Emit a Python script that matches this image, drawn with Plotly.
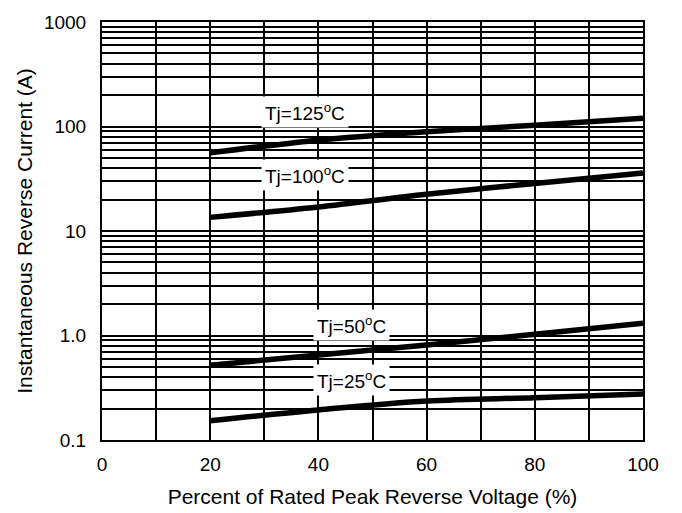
import plotly.graph_objects as go

x_pct = [20, 40, 60, 80, 100]
i_125 = [56, 74, 89, 103, 120]
i_100 = [13.5, 17, 22.5, 28.5, 36]
i_50 = [0.52, 0.65, 0.81, 1.03, 1.31]
i_25 = [0.153, 0.194, 0.236, 0.254, 0.275]

labels = ["Tj=125<sup>o</sup>C", "Tj=100<sup>o</sup>C", "Tj=50<sup>o</sup>C", "Tj=25<sup>o</sup>C"]
label_x = [37.5, 37.5, 46.2, 46.2]
label_log_y = [2.139, 1.536, 0.100, -0.426]

x_ticks = [0, 20, 40, 60, 80, 100]
y_ticks = [0.1, 1, 10, 100, 1000]
y_ticktext = ["0.1", "1.0", "10", "100", "1000"]

fig = go.Figure()
for ys in [i_125, i_100, i_50, i_25]:
    fig.add_trace(go.Scatter(x=x_pct, y=ys, mode="lines", line=dict(color="black", width=5.5, shape="spline"),
                             showlegend=False, hoverinfo="skip"))

for t, lx, ly in zip(labels, label_x, label_log_y):
    fig.add_annotation(x=lx, y=ly, text=t, showarrow=False,
                       font=dict(family="Liberation Sans, Arial", size=19, color="black"),
                       bgcolor="white", borderpad=3)

fig.update_layout(
    width=682, height=513,
    margin=dict(l=94, r=47, t=14, b=81),
    paper_bgcolor="white", plot_bgcolor="white",
    font=dict(family="Liberation Sans, Arial", size=19, color="black"),
)
fig.update_xaxes(range=[0, 100], tickvals=x_ticks, showgrid=True, gridcolor="black", gridwidth=1.5,
                 minor=dict(dtick=10, showgrid=True, gridcolor="black", gridwidth=1.5),
                 showline=True, linecolor="black", linewidth=2, mirror=True, ticks="",
                 ticklabelstandoff=6, automargin=False,
                 title=dict(text="Percent of Rated Peak Reverse Voltage (%)", font=dict(size=21), standoff=16),
                 zeroline=False)
fig.update_yaxes(type="log", range=[-1, 3], tickvals=y_ticks, ticktext=y_ticktext,
                 showgrid=True, gridcolor="black", gridwidth=1.5,
                 minor=dict(dtick="D1", showgrid=True, gridcolor="black", gridwidth=1.5, ticks=""),
                 showline=True, linecolor="black", linewidth=2, mirror=True, ticks="",
                 ticklabelstandoff=10, automargin=False,
                 title=dict(text="Instantaneous Reverse Current (A)", font=dict(size=21), standoff=6),
                 zeroline=False)

fig.write_html("out.html")
